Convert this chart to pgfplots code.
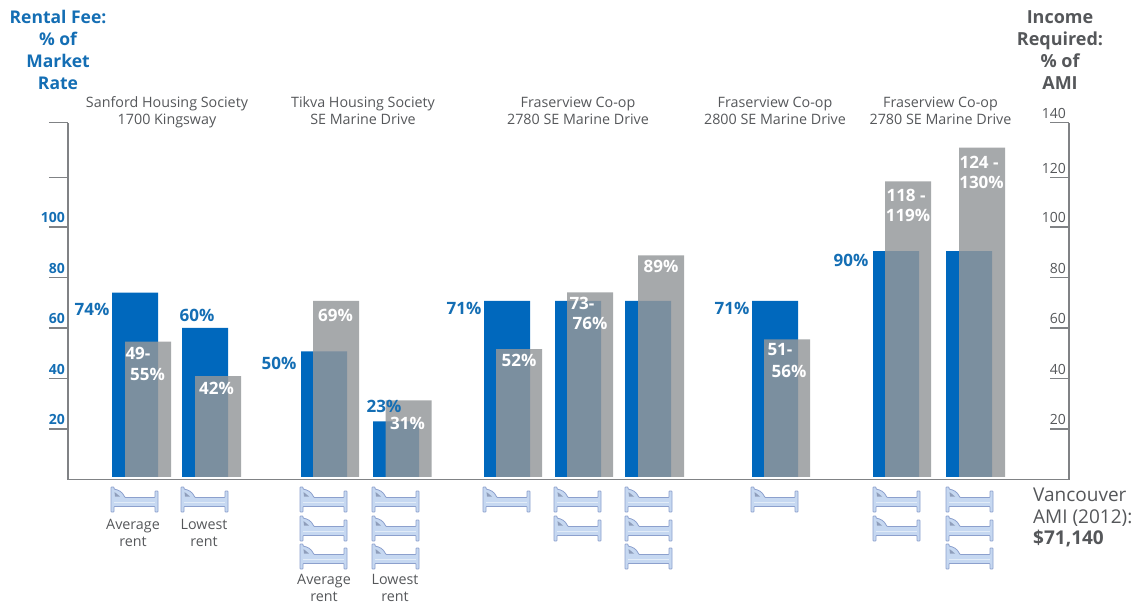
\documentclass[border=0pt]{standalone}
\usepackage{fontspec}
\setmainfont{Open Sans}
\usepackage{pgfplots}
\pgfplotsset{compat=1.18}

\definecolor{rentblue}{RGB}{0,104,189}
\definecolor{labelblue}{RGB}{20,110,180}
\definecolor{incomegrey}{RGB}{148,151,154}
\definecolor{textgrey}{RGB}{85,87,90}
\definecolor{axisgrey}{RGB}{128,130,133}
\definecolor{bedfill}{RGB}{198,216,241}
\definecolor{bedline}{RGB}{140,160,205}

% blue bars: rental fee, % of market rate
\pgfplotstableread{
x y
135 74
205 60
324 50.7
396 23
507 70.7
578 70.7
648 70.7
775 70.7
896 90.4
969 90.4
}\renttable
% grey bars: income required, % of AMI
\pgfplotstableread{
x y
148 54.6
218 40.9
336 70.7
408.5 31.3
519 51.6
590 74.1
661 88.7
787 55.5
908 118
982 131.4
}\incometable

\newcommand{\bed}[2]{%
  \begin{scope}[shift={(#1,#2)}]
    \filldraw[fill=bedfill,draw=bedline,line width=.8pt,rounded corners=.6pt]
      (0,0) -- (3,0) -- (3,2) .. controls (7,3) and (11,4) .. (14,10.5) -- (44,10.5) -- (44,4) -- (47,4)
      -- (47,25) -- (44,25) -- (44,19.5) -- (3,19.5) -- (3,25) -- (0,25) -- cycle;
    \fill[bedline!70!black,opacity=.55] (3.5,5) -- (9,9.5) -- (4,9.5) -- cycle;
    \draw[bedfill!50!white,line width=.6pt] (3,15) -- (44,15);
  \end{scope}}

\newcommand{\valfont}{\fontsize{17}{20}\selectfont\bfseries}
\newcommand{\headfont}{\fontsize{14.3}{17}\selectfont}

\begin{document}
\begin{tikzpicture}
\path[use as bounding box] (0pt,-602pt) rectangle (1143pt,0pt);

% right axis, income scale
\begin{axis}[
    at={(68pt,-479.5pt)}, anchor=south west,
    scale only axis, width=1001pt, height=357pt,
    xmin=68, xmax=1069, ymin=0, ymax=141.3,
    axis x line=none,
    axis y line*=right,
    axis line style={draw=axisgrey,line width=1.4pt},
    tick align=inside,
    major tick length=19pt,
    tick style={draw=axisgrey,line width=1.4pt},
    ytick={20,40,60,80,100,119.5,141.3},
    yticklabels={20,40,60,80,100,120,140},
    yticklabel style={anchor=south east,inner sep=0pt,xshift=-3pt,yshift=4pt,
        text=textgrey,font=\fontsize{14}{16}\selectfont},
]
\end{axis}

% left axis and the bars
\begin{axis}[
    at={(68pt,-479.5pt)}, anchor=south west,
    scale only axis, width=1001pt, height=357pt,
    xmin=68, xmax=1069, ymin=0, ymax=141.3,
    clip=false,
    axis on top,
    axis x line*=bottom,
    axis y line*=left,
    axis line style={draw=axisgrey,line width=1.4pt},
    xtick=\empty,
    tick align=outside,
    major tick length=19pt,
    tick style={draw=axisgrey,line width=1.4pt},
    ytick={20,40,60,80,100,119.5,141.3},
    yticklabels={20,40,60,80,100,,},
    yticklabel style={anchor=south east,inner sep=0pt,xshift=16pt,yshift=4pt,
        text=labelblue,font=\fontsize{14}{16}\selectfont\bfseries},
    ybar,
    bar width=46pt,
    /pgf/bar shift=0pt,
]
\addplot[fill=rentblue,draw=none] table {\renttable};
\addplot[fill=incomegrey,draw=none,fill opacity=.83] table {\incometable};
% the bars stop just short of the base line
\fill[white] (axis cs:70,0) rectangle (axis cs:1067,1);
\end{axis}

\begin{scope}[x=1pt,y=-1pt]
% scale titles
\node[text=labelblue,font=\fontsize{17.5}{22}\selectfont\bfseries,align=center,anchor=north] at (58,7) {Rental Fee:\\\% of\\Market\\Rate};
\node[text=textgrey,font=\fontsize{18}{22}\selectfont\bfseries,align=center,anchor=north] at (1060,7) {Income\\Required:\\\% of\\AMI};

% building names
\begin{scope}[text=textgrey,font=\headfont,align=center]
\node[anchor=north] at (167,93) {Sanford Housing Society\\1700 Kingsway};
\node[anchor=north] at (363,93) {Tikva Housing Society\\SE Marine Drive};
\node[anchor=north] at (578,93) {Fraserview Co-op\\2780 SE Marine Drive};
\node[anchor=north] at (775,93) {Fraserview Co-op\\2800 SE Marine Drive};
\node[anchor=north] at (940.5,93) {Fraserview Co-op\\2780 SE Marine Drive};
\end{scope}

% rent labels
\begin{scope}[text=labelblue,font=\valfont]
\node at (92,309) {74\%};
\node at (197,315) {60\%};
\node at (279,363) {50\%};
\node at (384,406) {23\%};
\node at (464,308) {71\%};
\node at (732,308) {71\%};
\node at (851,260) {90\%};
\end{scope}

% income labels
\begin{scope}[text=white,font=\valfont]
\node[anchor=west] at (122,353) {49-};
\node at (147.5,374) {55\%};
\node at (216.5,388) {42\%};
\node at (335.5,315) {69\%};
\node at (407.5,423) {31\%};
\node at (519,360) {52\%};
\node[anchor=west] at (566,303) {73-};
\node at (590,323) {76\%};
\node at (661,266) {89\%};
\node[anchor=west] at (764,350) {51-};
\node at (789,371) {56\%};
\node[anchor=west] at (883,195) {118 -};
\node at (908,215) {119\%};
\node[anchor=west] at (956,162) {124 -};
\node at (981.5,182) {130\%};
\end{scope}

% bedrooms
\bed{111}{487}
\bed{181}{487}
\foreach \x in {300,372} {\bed{\x}{487}\bed{\x}{516}\bed{\x}{544}}
\bed{483}{487}
\bed{554}{487}\bed{554}{516}
\bed{625}{487}\bed{625}{516}\bed{625}{544}
\bed{751}{487}
\bed{873}{487}\bed{873}{516}
\bed{946}{487}\bed{946}{516}\bed{946}{544}

\begin{scope}[text=textgrey,font=\headfont,align=center]
\node[anchor=north] at (133,516) {Average\\rent};
\node[anchor=north] at (204,516) {Lowest\\rent};
\node[anchor=north] at (324,571) {Average\\rent};
\node[anchor=north] at (395,571) {Lowest\\rent};
\end{scope}

\node[text=textgrey,font=\fontsize{19}{21.5}\selectfont,align=left,anchor=north west,inner sep=0pt] at (1033,488)
  {Vancouver\\AMI (2012):\\\textbf{\$71,140}};
\end{scope}
\end{tikzpicture}
\end{document}
